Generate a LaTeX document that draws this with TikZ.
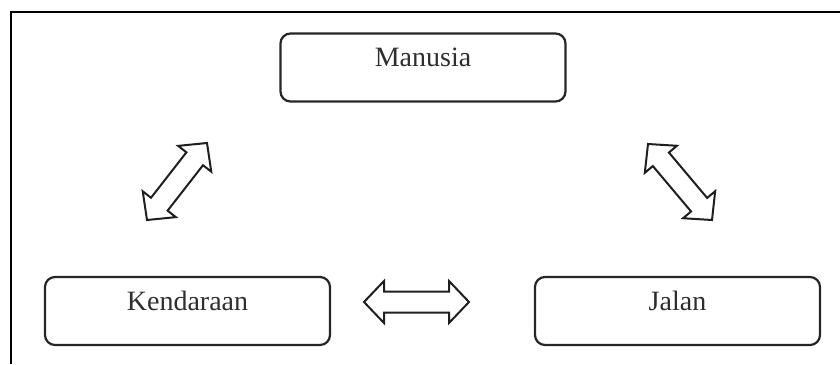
\documentclass[tikz,border=0pt]{standalone}
\usepackage{fontspec}
\setmainfont{Liberation Serif}
\usetikzlibrary{calc}
\tikzset{
  box/.style={draw=black!85, line width=1.1pt, rounded corners=5pt, minimum width=142.5pt, minimum height=34pt,
    inner sep=0pt, text=black!82, font=\fontsize{14}{16}\selectfont, text height=10pt, text depth=11pt},
  arr/.style={draw=black!88, line width=1pt, line join=miter, fill=white},
  frame/.style={draw=black, line width=1pt}
}
\newcommand\dblarrow[2]{%
  \draw[arr] (#1) -- ($(#1)!10pt!(#2)!10.5pt!90:(#2)$) -- ($(#1)!10pt!(#2)!5.25pt!90:(#2)$)
   -- ($(#2)!10pt!(#1)!5.25pt!-90:(#1)$) -- ($(#2)!10pt!(#1)!10.5pt!-90:(#1)$) -- (#2)
   -- ($(#2)!10pt!(#1)!10.5pt!90:(#1)$) -- ($(#2)!10pt!(#1)!5.25pt!90:(#1)$)
   -- ($(#1)!10pt!(#2)!5.25pt!-90:(#2)$) -- ($(#1)!10pt!(#2)!10.5pt!-90:(#2)$) -- cycle;}
\begin{document}
\begin{tikzpicture}[x=0.5pt,y=-0.5pt]
\useasboundingbox (0,0) rectangle (840,364);
\coordinate (f1) at (840,12);
\coordinate (f2) at (11,12);
\coordinate (f3) at (11,364);
\draw[frame] (f1) -- (f2) -- (f3);
\node[box] (manusia) at (423,67.5) {Manusia};
\node[box] (kendaraan) at (187.5,311) {Kendaraan};
\node[box] (jalan) at (677.5,311) {Jalan};
\coordinate (l1) at (207,143);
\coordinate (l2) at (147,220);
\coordinate (r1) at (648,144);
\coordinate (r2) at (712,220);
\coordinate (h1) at (364,302);
\coordinate (h2) at (469,302);
\dblarrow{l1}{l2}
\dblarrow{r1}{r2}
\dblarrow{h1}{h2}
\end{tikzpicture}
\end{document}
